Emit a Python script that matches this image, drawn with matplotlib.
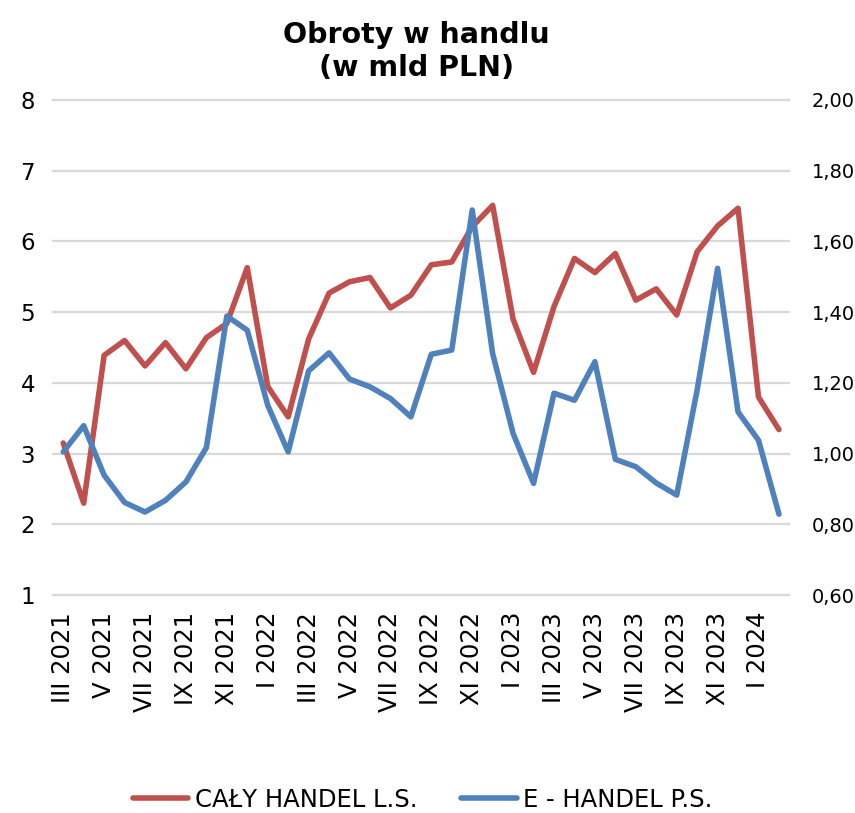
import numpy as np
import matplotlib.pyplot as plt
from matplotlib.ticker import FuncFormatter

# miesiące od III 2021 do II 2024
months = ["III", "IV", "V", "VI", "VII", "VIII", "IX", "X", "XI", "XII",
          "I", "II", "III", "IV", "V", "VI", "VII", "VIII", "IX", "X", "XI", "XII",
          "I", "II", "III", "IV", "V", "VI", "VII", "VIII", "IX", "X", "XI", "XII",
          "I", "II"]
years = [2021] * 10 + [2022] * 12 + [2023] * 12 + [2024] * 2

# cały handel (lewa oś, mld PLN)
caly_handel = [3.15, 2.30, 4.39, 4.60, 4.24, 4.57, 4.20, 4.64, 4.84, 5.63,
               3.95, 3.52, 4.62, 5.27, 5.43, 5.49, 5.06, 5.24, 5.67, 5.71,
               6.21, 6.51, 4.90, 4.15, 5.08, 5.76, 5.56, 5.83, 5.17, 5.33,
               4.96, 5.855, 6.22, 6.47, 3.80, 3.34]

# e-handel (prawa oś, mld PLN)
e_handel = [1.005, 1.079, 0.939, 0.862, 0.835, 0.868, 0.920, 1.017, 1.389, 1.349,
            1.137, 1.005, 1.234, 1.285, 1.211, 1.189, 1.156, 1.104, 1.281, 1.293,
            1.689, 1.283, 1.057, 0.916, 1.171, 1.151, 1.260, 0.984, 0.963, 0.917,
            0.883, 1.180, 1.524, 1.118, 1.038, 0.829]

labels = [f"{m} {y}" for m, y in zip(months, years)]
x = np.arange(len(labels))

RED = "#C0504D"
BLUE = "#4F81BD"

fig = plt.figure(figsize=(8.55, 8.13), dpi=100)
ax = fig.add_axes([0.062, 0.268, 0.861, 0.609])
ax2 = ax.twinx()

ax.set_ylim(1, 8)
ax.set_yticks(range(1, 9))
ax2.set_ylim(0.6, 2.0)
ax2.set_yticks(np.arange(0.6, 2.01, 0.2))
ax2.yaxis.set_major_formatter(FuncFormatter(lambda v, p: f"{v:.2f}".replace(".", ",")))

ax.grid(axis="y", color="#D9D9D9", linewidth=1.6)
ax.set_axisbelow(True)
for g in ax.yaxis.get_gridlines():
    g.set_clip_on(False)

l1, = ax.plot(x, caly_handel, color=RED, linewidth=4, solid_joinstyle="round",
              solid_capstyle="round", label="CAŁY HANDEL L.S.")
l2, = ax2.plot(x, e_handel, color=BLUE, linewidth=4, solid_joinstyle="round",
               solid_capstyle="round", label="E - HANDEL P.S.")

ax.set_xlim(-0.5, len(x) - 0.5)
ax.set_xticks(x[::2])
ax.set_xticklabels(labels[::2], rotation=90, fontsize=17.5)

for a in (ax, ax2):
    for s in a.spines.values():
        s.set_visible(False)
    a.tick_params(length=0)

ax.tick_params(axis="y", labelsize=16.5, pad=13)
ax.tick_params(axis="x", pad=12)
ax2.tick_params(axis="y", labelsize=14, pad=16)

fig.suptitle("Obroty w handlu\n(w mld PLN)", fontsize=20.5, fontweight="bold",
             x=0.487, y=0.974, va="top", linespacing=1.2)

fig.legend(handles=[l1, l2], loc="center", bbox_to_anchor=(0.494, 0.016),
           ncol=2, frameon=False, fontsize=17.5, handlelength=2.3,
           handletextpad=0.25, columnspacing=1.8)

fig.savefig("out.png", dpi=100)
